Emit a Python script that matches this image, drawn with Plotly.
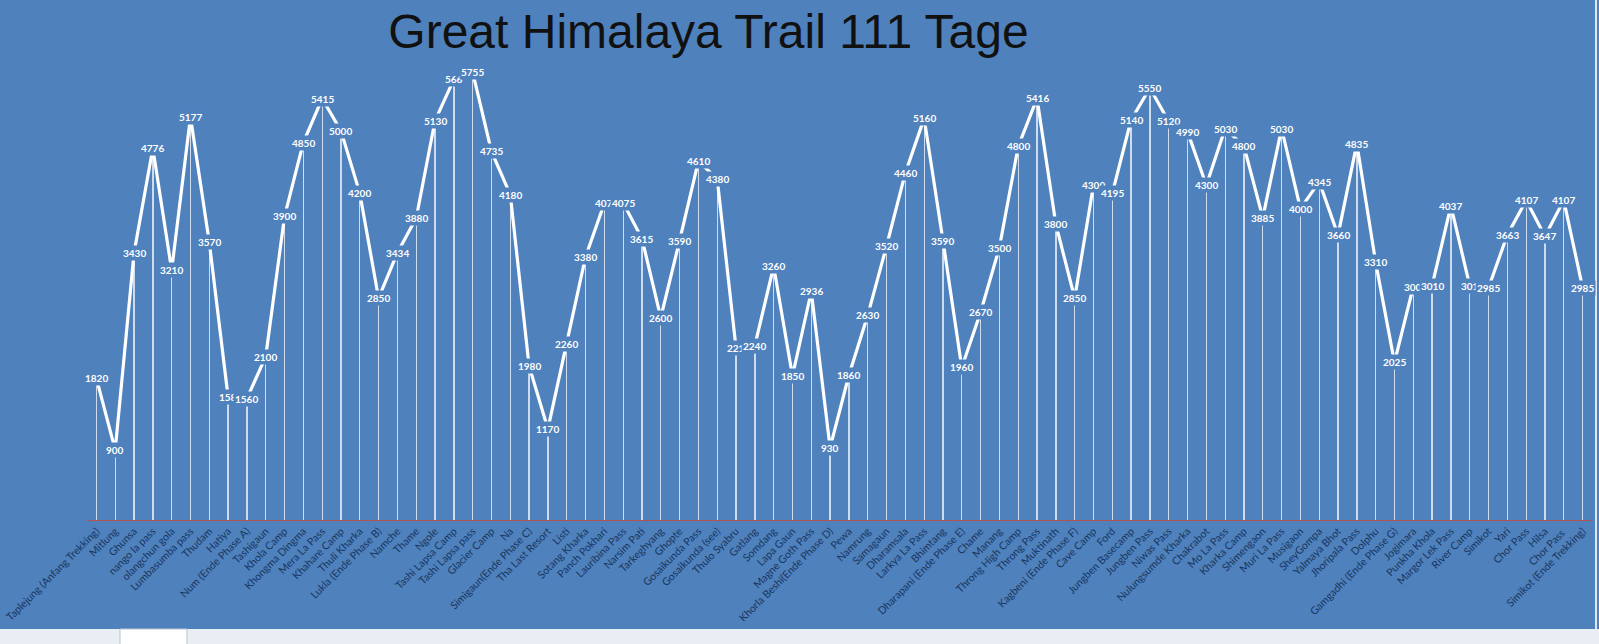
import plotly.graph_objects as go

places = [
    "Taplejung (Anfang Trekking)", "Mitlung", "Ghunsa", "nango la pass", "olangchun gola",
    "Lumbasumba pass", "Thudam", "Hatiya", "Num (Ende Phase A)", "Tashigaun",
    "Khola Camp", "Khongma Dingma", "Mera La Pass", "Khahare Camp", "Thuli Kharka",
    "Lukla (Ende Phase B)", "Namche", "Thame", "Ngole", "Tashi Lapsa Camp",
    "Tashi Lapsa pass", "Glacier Camp", "Na", "Simigaun(Ende Phase C)", "Tha Last Resort",
    "Listi", "Sotang Kharka", "Panch Pokhari", "Lauribina Pass", "Narsim Pati",
    "Tarkeghyang", "Ghopte", "Gosaikunda Pass", "Gosaikunda (see)", "Thulo Syabru",
    "Gatlang", "Somdang", "Lapa Gaun", "Magne Goth Pass", "Khorla Beshi(Ende Phase D)",
    "Pewa", "Namrung", "Samagaun", "Dharamsala", "Larkya La Pass",
    "Bhimtang", "Dharapani (Ende Phase E)", "Chame", "Manang", "Throng High Camp",
    "Throng Pass", "Muktinath", "Kagbeni (Ende Phase F)", "Cave Camp", "Ford",
    "Jungben Basecamp", "Jungben Pass", "Niwas Pass", "Nulungsumde Kharka", "Chakrabot",
    "Mo La Pass", "Kharka Camp", "Shimengaon", "Muri La Pass", "Musigaon",
    "SheyGompa", "Yalmaya Bhot", "Jhoripala Pass", "Dolphu", "Gamgadhi (Ende Phase G)",
    "Jogimara", "Punkha Khola", "Margor Lek Pass", "River Camp", "Simikot",
    "Yari", "Chor Pass", "Hilsa", "Chor Pass ", "Simikot (Ende Trekking)",
]

elevation = [
    1820, 900, 3430, 4776, 3210, 5177, 3570, 1580, 1560, 2100,
    3900, 4850, 5415, 5000, 4200, 2850, 3434, 3880, 5130, 5660,
    5755, 4735, 4180, 1980, 1170, 2260, 3380, 4070, 4075, 3615,
    2600, 3590, 4610, 4380, 2210, 2240, 3260, 1850, 2936, 930,
    1860, 2630, 3520, 4460, 5160, 3590, 1960, 2670, 3500, 4800,
    5416, 3800, 2850, 4300, 4195, 5140, 5550, 5120, 4990, 4300,
    5030, 4800, 3885, 5030, 4000, 4345, 3660, 4835, 3310, 2025,
    3000, 3010, 4037, 3010, 2985, 3663, 4107, 3647, 4107, 2985,
]

value_labels = [
    "1820", "900", "3430", "4776", "3210", "5177", "3570", "158", "1560", "2100",
    "3900", "4850", "5415", "5000", "4200", "2850", "3434", "3880", "5130", "566",
    "5755", "4735", "4180", "1980", "1170", "2260", "3380", "407", "4075", "3615",
    "2600", "3590", "4610", "4380", "221", "2240", "3260", "1850", "2936", "930",
    "1860", "2630", "3520", "4460", "5160", "3590", "1960", "2670", "3500", "4800",
    "5416", "3800", "2850", "4300", "4195", "5140", "5550", "5120", "4990", "4300",
    "5030", "4800", "3885", "5030", "4000", "4345", "3660", "4835", "3310", "2025",
    "300", "3010", "4037", "301", "2985", "3663", "4107", "3647", "4107", "2985",
]

title_text = "Great Himalaya Trail 111 Tage"

BLUE = "#4F81BD"

fig = go.Figure()

# drop lines
fig.add_trace(go.Bar(
    x=places, y=elevation, width=0.07,
    marker=dict(color="rgba(255,255,255,0.72)", line=dict(width=0)),
    hoverinfo="skip", showlegend=False,
))

# elevation profile
fig.add_trace(go.Scatter(
    x=places, y=elevation, mode="lines",
    line=dict(color="white", width=3.2),
    showlegend=False,
))

for p, v, t in zip(places, elevation, value_labels):
    fig.add_annotation(
        x=p, y=v, text="<b>" + t + "</b>", showarrow=False,
        xanchor="center", yanchor="middle",
        font=dict(family="Lato, sans-serif", size=10, color="white"),
        bgcolor=BLUE, borderpad=1,
    )

# bottom strip (sheet tab area) and right edge line
fig.add_shape(type="rect", xref="paper", yref="paper",
              x0=-0.06, x1=1.01, y0=-0.2334, y1=-0.27,
              fillcolor="#E9EEF4", line=dict(width=0), layer="above")
fig.add_shape(type="rect", xref="paper", yref="paper",
              x0=(120 - 87) / 1505, x1=(187 - 87) / 1505, y0=-0.2334, y1=-0.27,
              fillcolor="#FFFFFF", line=dict(color="#B8C4D2", width=1), layer="above")
fig.add_shape(type="line", xref="paper", yref="paper",
              x0=(1596 - 87) / 1505, x1=(1596 - 87) / 1505, y0=-0.2334, y1=1.2,
              line=dict(color="#DDE6F0", width=2), layer="above")

fig.update_layout(
    width=1599, height=644,
    margin=dict(l=87, r=7, t=53, b=124),
    paper_bgcolor=BLUE, plot_bgcolor=BLUE,
    bargap=0,
    title=dict(
        text=title_text, x=708.5 / 1599, xanchor="center",
        y=1 - 31 / 644, yanchor="middle", yref="container",
        font=dict(family="Liberation Sans, Arial, sans-serif", size=48, color="#111111"),
    ),
    xaxis=dict(
        type="category", range=[-0.5, len(places) - 0.5],
        tickangle=-45, showgrid=False, ticks="", automargin=False,
        tickfont=dict(family="Lato, Open Sans, sans-serif", size=10.5, color="#17365D"),
        showline=True, linecolor="#B5524F", linewidth=1,
    ),
    yaxis=dict(
        range=[0, 6000], visible=False, showgrid=False, zeroline=False,
        automargin=False,
    ),
    hovermode=False,
)

fig.write_html(
    "out.html",
    config={"displayModeBar": False},
    post_script="document.body.style.margin='0';document.body.style.overflow='hidden';",
)
